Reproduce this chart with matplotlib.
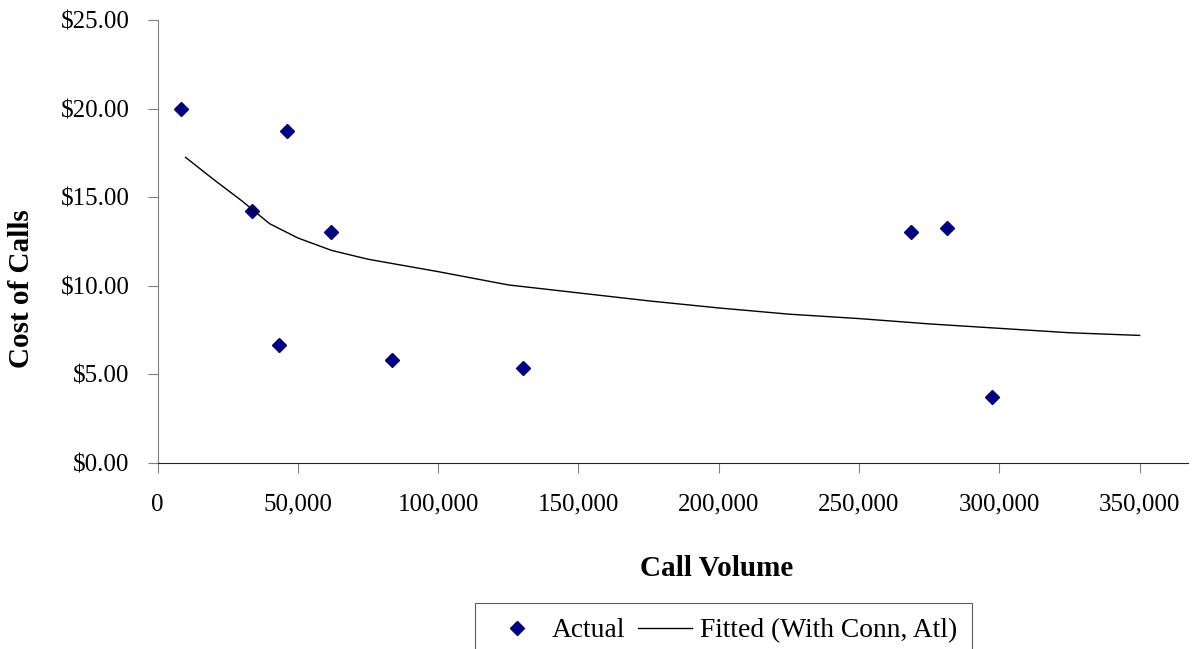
import matplotlib.pyplot as plt
from matplotlib.ticker import FuncFormatter

# --- Data ---
actual_volume = [8200, 46300, 33800, 62000, 43400, 83700, 130300, 268500, 281300, 297300]
actual_cost = [20.0, 18.74, 14.22, 13.04, 6.66, 5.81, 5.36, 13.04, 13.26, 3.72]

fitted_volume = [10000, 20000, 30000, 40000, 50000, 62000, 75000, 100000, 125000,
                 150000, 175000, 200000, 225000, 250000, 275000, 300000, 325000, 350000]
fitted_cost = [17.25, 16.0, 14.8, 13.5, 12.7, 12.0, 11.5, 10.8, 10.05,
               9.6, 9.15, 8.75, 8.4, 8.15, 7.85, 7.6, 7.35, 7.2]

x_ticks = list(range(0, 350001, 50000))
y_ticks = [0, 5, 10, 15, 20, 25]

plt.rcParams['font.family'] = ['Liberation Serif', 'DejaVu Serif']

W, H = 1192, 649
fig = plt.figure(figsize=(W / 100, H / 100), dpi=100)
# plot area runs past the 350,000 tick and is clipped by the image edge
ax = fig.add_axes([157.5 / W, 1 - 463 / H, (1188 - 157.5) / W, (463 - 20) / H])

ax.plot(actual_volume, actual_cost, linestyle='none', marker='D', markersize=7.5,
        color='#000080', label='Actual')
ax.plot(fitted_volume, fitted_cost, color='black', linewidth=1, label='Fitted (With Conn, Atl)')

ax.set_xlim(0, 350000 * (1188 - 157.5) / (1139.6 - 157.5))
ax.set_ylim(0, 25)
ax.set_xticks(x_ticks)
ax.set_yticks(y_ticks)
ax.xaxis.set_major_formatter(FuncFormatter(lambda v, p: f"{int(v):,}"))
ax.yaxis.set_major_formatter(FuncFormatter(lambda v, p: f"${v:.2f}"))
ax.tick_params(labelsize=18, direction='out', length=7, color='#808080')
ax.tick_params(axis='y', pad=13)
ax.tick_params(axis='x', pad=15)

for side in ['top', 'right']:
    ax.spines[side].set_visible(False)
ax.spines['left'].set_color('#808080')
ax.spines['bottom'].set_color('#222222')

fig.text(717 / W, 1 - 568 / H, 'Call Volume', fontsize=21, fontweight='bold',
         ha='center', va='center')
fig.text(22 / W, 1 - 289 / H, 'Cost of Calls', fontsize=21, fontweight='bold',
         ha='center', va='center', rotation=90)

leg = fig.legend(loc='upper left', bbox_to_anchor=(475 / W, 1 - 603 / H), ncol=2,
                 fontsize=19.8, frameon=True, fancybox=False, handlelength=1.95,
                 columnspacing=0.45, handletextpad=0.3, borderpad=0.55, borderaxespad=0)
leg.get_frame().set_edgecolor('#333333')
leg.get_frame().set_linewidth(0.8)

fig.savefig('out.png', dpi=100)
